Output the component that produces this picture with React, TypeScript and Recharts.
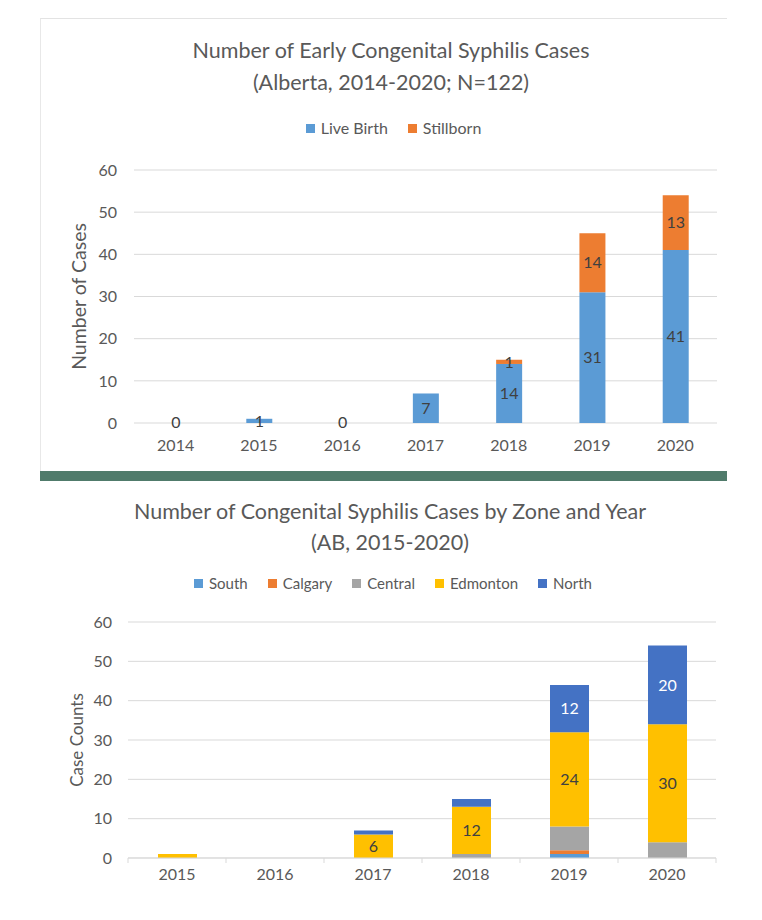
import { BarChart, Bar, XAxis, YAxis, CartesianGrid, LabelList, Legend, Cell } from "recharts";

const FONT = "Lato, 'Open Sans', sans-serif";
const TEXT = "#595959";
const GRID = "#D9D9D9";
const LABEL = "#404040";

// chart 1: early congenital syphilis, live birth vs stillborn
const earlyYears = ["2014", "2015", "2016", "2017", "2018", "2019", "2020"];
const liveBirth = [0, 1, 0, 7, 14, 31, 41];
const stillborn = [0, 0, 0, 0, 1, 14, 13];

// chart 2: cases by zone
const zoneYears = ["2015", "2016", "2017", "2018", "2019", "2020"];
const zoneNames = ["South", "Calgary", "Central", "Edmonton", "North"];
const south = [0, 0, 0, 0, 1, 0];
const calgary = [0, 0, 0, 0, 1, 0];
const central = [0, 0, 0, 1, 6, 4];
const edmonton = [1, 0, 6, 12, 24, 30];
const north = [0, 0, 1, 2, 12, 20];

const yTicks = [0, 10, 20, 30, 40, 50, 60];

const earlyData = earlyYears.map((year, i) => ({
  year,
  live: liveBirth[i],
  still: stillborn[i],
}));

const zoneData = zoneYears.map((year, i) => ({
  year,
  south: south[i],
  calgary: calgary[i],
  central: central[i],
  edmonton: edmonton[i],
  north: north[i],
}));

const seriesOrder = ["Live Birth", "Stillborn", ...zoneNames];

function makeLegend(fontSize: number) {
  return function LegendRow({ payload }: any) {
    const items = [...(payload || [])].sort(
      (a: any, b: any) => seriesOrder.indexOf(a.value) - seriesOrder.indexOf(b.value)
    );
    return (
      <div style={{ display: "flex", justifyContent: "center", gap: 20, fontFamily: FONT, fontSize, color: TEXT, lineHeight: "20px" }}>
        {items.map((p: any) => (
          <span key={p.value} style={{ display: "inline-flex", alignItems: "center" }}>
            <span style={{ width: 9, height: 9, background: p.color, marginRight: 6, display: "inline-block" }} />
            {p.value}
          </span>
        ))}
      </div>
    );
  };
}

const TICK_SIZE = 6;
const TICK_MARGIN = 5;

// category labels plus Excel-style tick marks between categories
function ZoneTick(props: any) {
  const { x, y, payload, index, visibleTicksCount } = props;
  const half = payload.offset ?? 49;
  const axisY = y - TICK_SIZE - TICK_MARGIN;
  return (
    <g>
      <line x1={x - half} x2={x - half} y1={axisY} y2={axisY + 5} stroke={GRID} />
      {index === visibleTicksCount - 1 && (
        <line x1={x + half} x2={x + half} y1={axisY} y2={axisY + 5} stroke={GRID} />
      )}
      <text x={x} y={y} dy="0.71em" textAnchor="middle" fill={TEXT} fontSize={16} fontFamily={FONT}>
        {payload.value}
      </text>
    </g>
  );
}

const titleStyle: React.CSSProperties = {
  position: "absolute",
  textAlign: "center",
  fontFamily: FONT,
  fontSize: 21.5,
  color: TEXT,
};

export default function App() {
  return (
    <div style={{ position: "absolute", left: 0, top: 0, width: 762, height: 920, background: "#fff", overflow: "hidden" }}>
      {/* card behind the first chart */}
      <div style={{ position: "absolute", left: 40, top: 18, width: 687, height: 453, borderTop: "1px solid #E3E3E3", borderLeft: "1px solid #E8E8E8", boxSizing: "border-box" }} />
      <div style={{ position: "absolute", left: 40, top: 471, width: 687, height: 10, background: "#507B6B" }} />

      <div style={{ ...titleStyle, left: 40, width: 702, top: 34, lineHeight: "32px" }}>
        Number of Early Congenital Syphilis Cases
        <br />
        (Alberta, 2014-2020; N=122)
      </div>

      <div style={{ position: "absolute", left: 40, top: 18 }}>
        <BarChart width={687} height={452} data={earlyData} margin={{ top: 152, right: 10, bottom: 17, left: 0 }} barSize={26}>
          <CartesianGrid vertical={false} stroke={GRID} />
          <XAxis dataKey="year" axisLine={false} tickLine={false} tickMargin={11} tick={{ fill: TEXT, fontSize: 16, fontFamily: FONT }} height={30} />
          <YAxis
            domain={[0, 60]}
            ticks={yTicks}
            width={94}
            axisLine={false}
            tickLine={false}
            tickMargin={11}
            tick={{ fill: TEXT, fontSize: 16, fontFamily: FONT }}
            label={{ value: "Number of Cases", angle: -90, position: "insideLeft", offset: 39, style: { textAnchor: "middle", fill: TEXT, fontSize: 19.5, fontFamily: FONT } }}
          />
          <Legend layout="horizontal" verticalAlign="middle" align="center" wrapperStyle={{ top: 100, left: 10, width: 687 }} content={makeLegend(16)} />
          <Bar dataKey="live" name="Live Birth" stackId="a" fill="#5B9BD5" minPointSize={1} isAnimationActive={false}>
            {earlyData.map((d, i) => (
              <Cell key={i} fill={d.live ? "#5B9BD5" : "transparent"} />
            ))}
            <LabelList dataKey="live" position="center" fill={LABEL} fontSize={16} fontFamily={FONT} />
          </Bar>
          <Bar dataKey="still" name="Stillborn" stackId="a" fill="#ED7D31" isAnimationActive={false}>
            <LabelList dataKey="still" position="center" fill={LABEL} fontSize={16} fontFamily={FONT} formatter={(v: any) => (v ? v : "")} />
          </Bar>
        </BarChart>
      </div>

      <div style={{ ...titleStyle, left: 0, width: 780, top: 496, lineHeight: "31px" }}>
        Number of Congenital Syphilis Cases by Zone and Year
        <br />
        (AB, 2015-2020)
      </div>

      <div style={{ position: "absolute", left: 0, top: 490 }}>
        <BarChart width={762} height={430} data={zoneData} margin={{ top: 132, right: 46, bottom: 17, left: 0 }} barSize={39}>
          <CartesianGrid vertical={false} stroke={GRID} />
          <XAxis dataKey="year" axisLine={{ stroke: GRID }} tickLine={false} tickSize={TICK_SIZE} tickMargin={TICK_MARGIN} tick={<ZoneTick />} height={45} />
          <YAxis
            domain={[0, 60]}
            ticks={yTicks}
            width={128}
            axisLine={false}
            tickLine={false}
            tickMargin={10}
            tick={{ fill: TEXT, fontSize: 16, fontFamily: FONT }}
            label={{ value: "Case Counts", angle: -90, position: "insideLeft", offset: 77, style: { textAnchor: "middle", fill: TEXT, fontSize: 17, fontFamily: FONT } }}
          />
          <Legend layout="horizontal" verticalAlign="middle" align="center" wrapperStyle={{ top: 83, left: 12, width: 762 }} content={makeLegend(15)} />
          <Bar dataKey="south" name="South" stackId="z" fill="#5B9BD5" isAnimationActive={false} />
          <Bar dataKey="calgary" name="Calgary" stackId="z" fill="#ED7D31" isAnimationActive={false} />
          <Bar dataKey="central" name="Central" stackId="z" fill="#A5A5A5" isAnimationActive={false} />
          <Bar dataKey="edmonton" name="Edmonton" stackId="z" fill="#FFC000" isAnimationActive={false}>
            <LabelList dataKey="edmonton" position="center" fill={LABEL} fontSize={16} fontFamily={FONT} formatter={(v: any) => (v >= 5 ? v : "")} />
          </Bar>
          <Bar dataKey="north" name="North" stackId="z" fill="#4472C4" isAnimationActive={false}>
            <LabelList dataKey="north" position="center" fill="#FFFFFF" fontSize={16} fontFamily={FONT} formatter={(v: any) => (v >= 5 ? v : "")} />
          </Bar>
        </BarChart>
      </div>
    </div>
  );
}
